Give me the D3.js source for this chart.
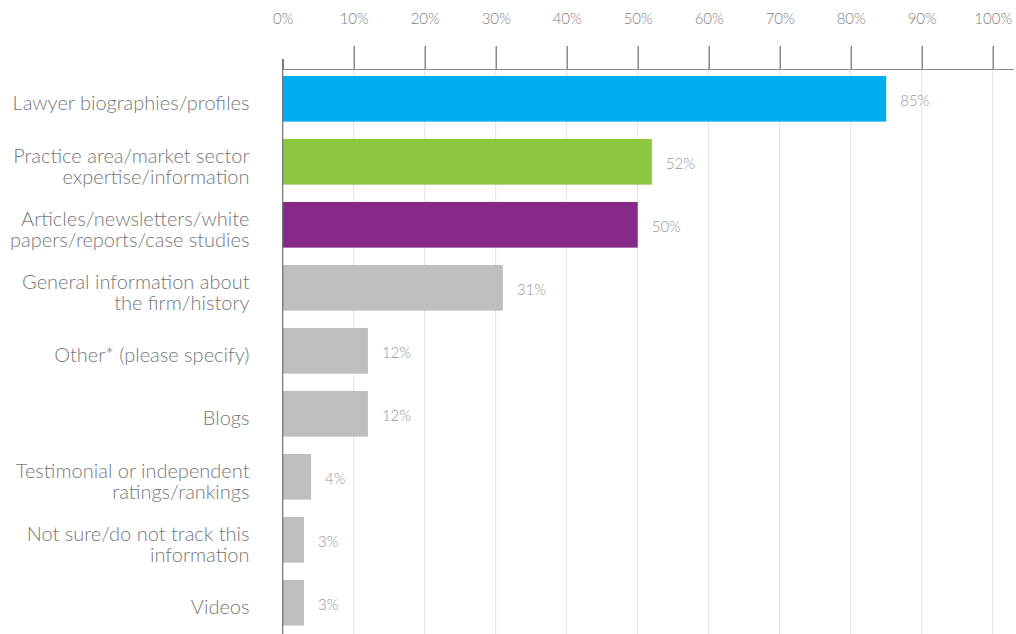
<!DOCTYPE html>
<html>
<head>
<meta charset="utf-8">
<script src="https://cdn.jsdelivr.net/npm/d3@7"></script>
<style>
  html, body { margin: 0; padding: 0; background: #fff; }
  svg { display: block; font-family: "Lato", "Open Sans", sans-serif; }
</style>
</head>
<body>
<svg id="chart" width="1016" height="634"></svg>
<script>
// Website content types, share of respondents
const categories = [
  ["Lawyer biographies/profiles"],
  ["Practice area/market sector", "expertise/information"],
  ["Articles/newsletters/white", "papers/reports/case studies"],
  ["General information about", "the firm/history"],
  ["Other* (please specify)"],
  ["Blogs"],
  ["Testimonial or independent", "ratings/rankings"],
  ["Not sure/do not track this", "information"],
  ["Videos"]
];
const values = [85, 52, 50, 31, 12, 12, 4, 3, 3];
const barColors = ["#00aeef", "#8dc63f", "#872a87", "#bcbec0", "#bcbec0", "#bcbec0", "#bcbec0", "#bcbec0", "#bcbec0"];
const tickValues = [0, 10, 20, 30, 40, 50, 60, 70, 80, 90, 100];

const svg = d3.select("#chart");

const x = d3.scaleLinear().domain([0, 100]).range([282.7, 992.7]);
const y = d3.scaleBand()
  .domain(d3.range(values.length))
  .range([67.3, 634.3])
  .paddingInner(0.275)
  .paddingOuter(0.1375);

const axisY = 69.5;

// vertical gridlines
svg.append("g")
  .selectAll("line")
  .data(tickValues.filter(d => d > 0))
  .join("line")
  .attr("x1", d => x(d)).attr("x2", d => x(d))
  .attr("y1", axisY).attr("y2", 634)
  .attr("stroke", "#e2e2e2").attr("stroke-width", 1);

// top axis
const axis = d3.axisTop(x)
  .tickValues(tickValues)
  .tickFormat(d => d + "%")
  .tickSize(23.5)
  .tickPadding(22);
const gAxis = svg.append("g")
  .attr("transform", `translate(0,${axisY})`)
  .call(axis);
gAxis.select(".domain").remove();
gAxis.selectAll(".tick line").attr("stroke", "#6d6e71").attr("stroke-width", 1.2);
gAxis.selectAll(".tick").filter(d => d === 0).select("line").attr("y2", -10.5);
gAxis.selectAll(".tick text")
  .attr("fill", "#7d7e80")
  .style("font-size", "15px")
  .style("font-weight", 300)
  .style("font-family", "Lato, sans-serif");
svg.append("line")
  .attr("x1", x(0)).attr("x2", 1014)
  .attr("y1", axisY).attr("y2", axisY)
  .attr("stroke", "#8a8b8d").attr("stroke-width", 1.2);

// bars
svg.append("g")
  .selectAll("rect")
  .data(values)
  .join("rect")
  .attr("x", x(0))
  .attr("y", (d, i) => y(i))
  .attr("width", d => x(d) - x(0))
  .attr("height", y.bandwidth())
  .attr("fill", (d, i) => barColors[i]);

// left axis line
svg.append("line")
  .attr("x1", x(0)).attr("x2", x(0))
  .attr("y1", 59).attr("y2", 634)
  .attr("stroke", "#6d6e71").attr("stroke-width", 1.2);

// value labels
svg.append("g")
  .selectAll("text")
  .data(values)
  .join("text")
  .attr("x", d => x(d) + 14)
  .attr("y", (d, i) => y(i) + y.bandwidth() / 2 + 7.5)
  .attr("fill", "#939598")
  .style("font-size", "15px")
  .style("font-weight", 300)
  .text(d => d + "%");

// category labels
const lineH = 21.5;
const capH = 13;
const labels = svg.append("g")
  .selectAll("text")
  .data(categories)
  .join("text")
  .attr("text-anchor", "end")
  .attr("fill", "#76777a")
  .style("font-size", "20px")
  .style("font-weight", 300);
labels.each(function (lines, i) {
  const cy = y(i) + y.bandwidth() / 2;
  const first = cy + 5 + capH / 2 - (lines.length - 1) * lineH / 2;
  d3.select(this).selectAll("tspan")
    .data(lines)
    .join("tspan")
    .attr("x", 249.5)
    .attr("y", (d, k) => first + k * lineH)
    .text(d => d);
});
</script>
</body>
</html>
